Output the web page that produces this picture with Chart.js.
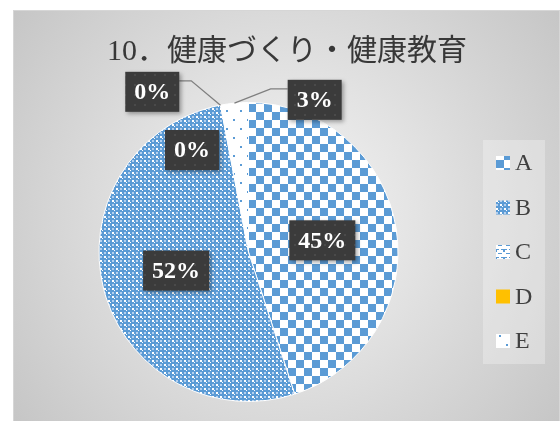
<!DOCTYPE html>
<html>
<head>
<meta charset="utf-8">
<script src="https://cdn.jsdelivr.net/npm/chart.js@4.4.1/dist/chart.umd.min.js"></script>
<style>
  html, body { margin: 0; background: #fff; }
  canvas { display: block; }
</style>
</head>
<body>
<canvas id="chart" width="560" height="421"></canvas>
<script>
// values
const categories = ['A', 'B', 'C', 'D', 'E'];
const shares = [45, 52, 0, 0, 3];
const chartTitle = '10．健康づくり・健康教育';

const BLUE = '#5b9bd5';
const canvas = document.getElementById('chart');
const ctx = canvas.getContext('2d');

function tile(w, h, paint) {
  const c = document.createElement('canvas');
  c.width = w;
  c.height = h;
  paint(c.getContext('2d'));
  return ctx.createPattern(c, 'repeat');
}

const fills = [
  tile(16, 16, g => {
    g.fillStyle = '#fff'; g.fillRect(0, 0, 16, 16);
    g.fillStyle = BLUE; g.fillRect(0, 0, 8, 8); g.fillRect(8, 8, 8, 8);
  }),
  tile(8, 8, g => {
    g.fillStyle = BLUE; g.fillRect(0, 0, 8, 8);
    g.fillStyle = '#b3cfee'; g.fillRect(4, 0, 2, 2); g.fillRect(0, 4, 2, 2);
    g.fillStyle = '#fff'; g.fillRect(0, 0, 2, 2); g.fillRect(4, 4, 2, 2);
    g.fillRect(2, 2, 1, 1); g.fillRect(6, 6, 1, 1);
  }),
  tile(8, 8, g => {
    g.fillStyle = '#fff'; g.fillRect(0, 0, 8, 8);
    g.fillStyle = BLUE; g.fillRect(0, 1, 3, 1); g.fillRect(5, 1, 3, 1);
    g.fillRect(2, 5, 4, 1); g.fillRect(0, 2, 1, 2); g.fillRect(7, 2, 1, 2);
  }),
  '#ffc000',
  tile(14, 18, g => {
    g.fillStyle = '#fff'; g.fillRect(0, 0, 14, 18);
    g.fillStyle = BLUE; g.fillRect(2, 2, 2, 2); g.fillRect(9, 11, 2, 2);
  })
];

const boxFill = tile(10, 10, g => {
  g.fillStyle = '#3b3b3b'; g.fillRect(0, 0, 10, 10);
  g.fillStyle = '#4a4a4a'; g.fillRect(4, 4, 2, 2);
});

// frame, radial shading and title
const backdrop = {
  id: 'backdrop',
  beforeDraw(chart) {
    const c = chart.ctx;
    c.save();
    const grad = c.createRadialGradient(286, 215, 0, 286, 215, 340);
    grad.addColorStop(0, '#f6f6f6');
    grad.addColorStop(1, '#c6c6c6');
    c.fillStyle = grad;
    c.fillRect(13, 10, 547, 411);
    c.strokeStyle = '#d6d6d6';
    c.strokeRect(13.5, 10.5, 546, 411);
    c.fillStyle = '#383838';
    c.font = '30px "Liberation Serif", "Noto Sans CJK JP"';
    c.textAlign = 'center';
    c.textBaseline = 'middle';
    c.fillText(chartTitle, 287, 52);
    c.restore();
  }
};

// legend on the right
const sideLegend = {
  id: 'sideLegend',
  afterDraw(chart) {
    const c = chart.ctx;
    const fillsUsed = chart.data.datasets[0].backgroundColor;
    c.save();
    c.fillStyle = 'rgba(255,255,255,0.28)';
    c.fillRect(483, 140, 62, 224);
    c.font = '24px "Liberation Serif"';
    c.textBaseline = 'middle';
    chart.data.labels.forEach((label, i) => {
      const y = 163 + i * 44.5;
      c.fillStyle = fillsUsed[i];
      c.fillRect(496, y - 7, 14, 14);
      c.fillStyle = '#404040';
      c.fillText(label, 515, y + 1);
    });
    c.restore();
  }
};

// dark boxed percentage labels
const boxLabels = {
  id: 'boxLabels',
  afterDatasetsDraw(chart, args, opts) {
    const c = chart.ctx;
    const meta = chart.getDatasetMeta(0);
    const values = chart.data.datasets[0].data;
    const total = values.reduce((a, b) => a + b, 0);
    c.save();
    c.font = 'bold 24px "Liberation Serif"';
    c.textAlign = 'center';
    c.textBaseline = 'middle';
    meta.data.forEach((arc, i) => {
      const text = Math.round(values[i] / total * 100) + '%';
      const spot = opts.spots[i] || {};
      const mid = (arc.startAngle + arc.endAngle) / 2;
      const ang = spot.deg !== undefined ? (spot.deg - 90) * Math.PI / 180 : mid;
      const rr = (spot.r || 0.5) * arc.outerRadius;
      const cx = arc.x + Math.cos(ang) * rr;
      const cy = arc.y + Math.sin(ang) * rr;
      const w = c.measureText(text).width + 18;
      const h = 40;
      const left = cx - w / 2;
      const top = cy - h / 2;
      if (spot.leader) {
        const px = arc.x + Math.cos(mid) * arc.outerRadius;
        const py = arc.y + Math.sin(mid) * arc.outerRadius;
        const right = cx > px;
        const ex = right ? left : left + w;
        const ey = top + 9;
        c.strokeStyle = '#7f7f7f';
        c.lineWidth = 1.3;
        c.beginPath();
        c.moveTo(px, py);
        c.lineTo(ex + (right ? -17 : 12), ey);
        c.lineTo(ex, ey);
        c.stroke();
      }
      c.save();
      c.shadowColor = 'rgba(0,0,0,0.35)';
      c.shadowBlur = 4;
      c.shadowOffsetX = 2;
      c.shadowOffsetY = 2;
      c.fillStyle = boxFill;
      c.fillRect(left, top, w, h);
      c.restore();
      c.fillStyle = '#fff';
      c.fillText(text, cx, cy + 1);
    });
    c.restore();
  }
};

new Chart(canvas, {
  type: 'pie',
  data: {
    labels: categories,
    datasets: [{
      data: shares,
      backgroundColor: fills,
      borderColor: '#fff',
      borderWidth: 1
    }]
  },
  options: {
    responsive: false,
    devicePixelRatio: 1,
    animation: false,
    layout: { padding: { left: 98, top: 102, right: 161, bottom: 19 } },
    plugins: {
      legend: { display: false },
      tooltip: { enabled: false },
      title: { display: false },
      boxLabels: {
        spots: {
          2: { deg: -29, r: 0.78 },
          3: { deg: -31, r: 1.25, leader: true },
          4: { deg: 23.5, r: 1.11, leader: true }
        }
      }
    }
  },
  plugins: [backdrop, boxLabels, sideLegend]
});
</script>
</body>
</html>
